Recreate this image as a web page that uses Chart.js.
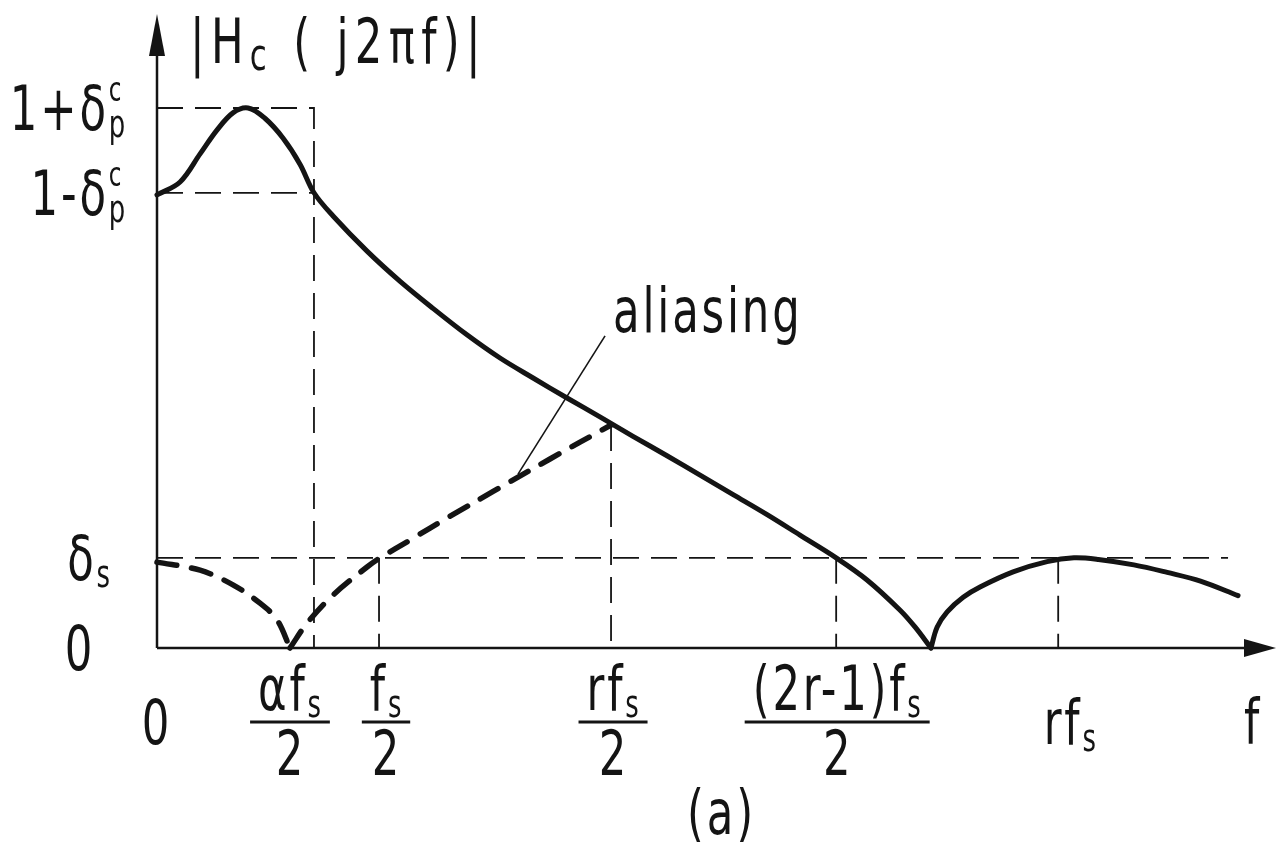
<!DOCTYPE html>
<html>
<head>
<meta charset="utf-8">
<script src="https://cdn.jsdelivr.net/npm/chart.js@4.4.1/dist/chart.umd.min.js"></script>
<style>
  html, body { margin: 0; padding: 0; background: #fff; }
  #wrap { position: relative; width: 1276px; height: 842px; }
</style>
</head>
<body>
<div id="wrap"><canvas id="resp"></canvas></div>
<script>
// frequency in units of fs/2, magnitude in units of 1+δp

// |Hc(j2πf)| main lobe, down to its first zero
const respFreq = [0, 0.104, 0.194, 0.270, 0.342, 0.410, 0.486, 0.568, 0.644, 0.707,
  0.793, 0.946, 1.095, 1.243, 1.396, 1.545, 1.694, 1.847, 1.995, 2.144,
  2.297, 2.446, 2.595, 2.748, 2.896, 3.059, 3.198, 3.347, 3.414, 3.486];
const respMag = [0.839, 0.863, 0.915, 0.959, 0.991, 1.000, 0.981, 0.944, 0.896, 0.843,
  0.800, 0.735, 0.679, 0.629, 0.580, 0.537, 0.500, 0.463, 0.428, 0.392,
  0.356, 0.320, 0.284, 0.247, 0.209, 0.167, 0.126, 0.070, 0.039, 0];

// stopband side lobe
const lobeFreq = [3.486, 3.514, 3.559, 3.631, 3.707, 3.856, 4.009, 4.130, 4.240, 4.400, 4.550, 4.700, 4.869];
const lobeMag = [0, 0.039, 0.067, 0.094, 0.113, 0.141, 0.160, 0.167, 0.164, 0.154, 0.140, 0.124, 0.097];

// aliased image folded back into the band
const foldFreq = [0, 0.194, 0.342, 0.464, 0.541, 0.599];
const foldMag = [0.159, 0.144, 0.117, 0.083, 0.052, 0];
const aliasFreq = [0.599, 0.676, 0.793, 0.946, 1.005, 1.140, 1.320, 1.514, 1.770, 2.045];
const aliasMag = [0, 0.046, 0.098, 0.150, 0.167, 0.200, 0.244, 0.290, 0.350, 0.413];

// tick positions and labels
const xTicks = [0, 0.707, 1.0, 2.045, 3.059, 4.059];
const xTickLabels = ['0', 'αf_{s}/2', 'f_{s}/2', 'rf_{s}/2', '(2r-1)f_{s}/2', 'rf_{s}'];
const yTicks = [1.0, 0.843, 0.167, 0];
const yTickLabels = ['1+δ_{p}^{c}', '1-δ_{p}^{c}', 'δ_{s}', '0'];

const stopbandEnd = 4.824;
const leaderFreq = [2.018, 1.626];
const leaderMag = [0.578, 0.322];

const INK = '#141414';
const FONT = '"DejaVu Sans", sans-serif';
const SX = 0.70; // narrow lettering

const pts = (xs, ys) => xs.map((v, i) => ({ x: v, y: ys[i] }));

function guide(data) {
  return {
    data, showLine: true, pointRadius: 0, borderColor: INK, borderWidth: 1.8,
    borderDash: [26, 12], tension: 0, clip: false
  };
}

const [tPass, tAlpha, tHalf, tRHalf, tImage, tR] = xTicks;
const [yTop, yLow, yStop] = yTicks;

const guides = [
  guide([{ x: 0, y: yTop }, { x: tAlpha, y: yTop }, { x: tAlpha, y: 0 }]),
  guide([{ x: 0, y: yLow }, { x: tAlpha, y: yLow }]),
  guide([{ x: 0, y: yStop }, { x: stopbandEnd, y: yStop }]),
  guide([{ x: tHalf, y: yStop }, { x: tHalf, y: 0 }]),
  guide([{ x: tRHalf, y: aliasMag[aliasMag.length - 1] }, { x: tRHalf, y: 0 }]),
  guide([{ x: tImage, y: yStop }, { x: tImage, y: 0 }]),
  guide([{ x: tR, y: yStop }, { x: tR, y: 0 }])
];

function curve(data, dashed) {
  return {
    data, showLine: true, pointRadius: 0, borderColor: INK,
    borderWidth: dashed ? 5.5 : 5, borderDash: dashed ? [20, 15] : [],
    borderCapStyle: 'round', borderJoinStyle: 'round',
    tension: 0.35, clip: false
  };
}

// split "a_{b}^{c}" into runs of base / subscript / superscript text
function parseRuns(s) {
  const runs = [];
  let buf = '';
  for (let i = 0; i < s.length; i++) {
    const ch = s[i];
    if ((ch === '_' || ch === '^') && s[i + 1] === '{') {
      if (buf) { runs.push({ t: buf, kind: 'base' }); buf = ''; }
      const end = s.indexOf('}', i);
      runs.push({ t: s.slice(i + 2, end), kind: ch === '_' ? 'sub' : 'sup' });
      i = end;
    } else buf += ch;
  }
  if (buf) runs.push({ t: buf, kind: 'base' });
  return runs;
}

function layoutRuns(ctx, runs, o) {
  let x = 0, scriptStart = null;
  const pieces = runs.map((r, k) => {
    const size = r.kind === 'base' ? o.size : (r.kind === 'sub' ? o.sub : o.sup);
    const dy = r.kind === 'base' ? 0 : (r.kind === 'sub' ? o.subDy : o.supDy);
    ctx.font = size + 'px ' + FONT;
    ctx.letterSpacing = o.spacing + 'px';
    const w = ctx.measureText(r.t).width * SX;
    let x0;
    if (r.kind !== 'base' && k > 0 && runs[k - 1].kind !== 'base' && scriptStart !== null) {
      x0 = scriptStart; // stacked sub + sup
      x = Math.max(x, x0 + w);
    } else {
      x0 = x;
      scriptStart = r.kind === 'base' ? null : x0;
      x = x0 + w;
    }
    return { t: r.t, x: x0, dy, size };
  });
  return { pieces, width: x };
}

function drawRich(ctx, s, x, y, align, o) {
  const opts = Object.assign({ size: 62, sub: 37, sup: 33, subDy: 7, supDy: -29, spacing: 4 }, o || {});
  const lay = layoutRuns(ctx, parseRuns(s), opts);
  let x0 = x;
  if (align === 'center') x0 = x - lay.width / 2;
  else if (align === 'right') x0 = x - lay.width;
  ctx.fillStyle = INK;
  ctx.textBaseline = 'alphabetic';
  ctx.textAlign = 'left';
  lay.pieces.forEach(p => {
    ctx.save();
    ctx.font = p.size + 'px ' + FONT;
    ctx.letterSpacing = opts.spacing + 'px';
    ctx.translate(x0 + p.x, y + p.dy);
    ctx.scale(SX, 1);
    ctx.fillText(p.t, 0, 0);
    ctx.restore();
  });
  return lay.width;
}

// label placement tweaks
const xLabelShift = [0, -23, 8, 3, 2, 13];
const yLabelPlace = [
  { align: 'right', x: 128 }, { align: 'right', x: 128 },
  { align: 'center', x: 90 }, { align: 'center', x: 80 }
];

const sketchPlugin = {
  id: 'sketch',
  afterDraw(chart) {
    const { ctx, scales: { x, y }, chartArea } = chart;
    const ox = x.getPixelForValue(0), oy = y.getPixelForValue(0);
    ctx.save();
    ctx.strokeStyle = INK;
    ctx.fillStyle = INK;
    ctx.lineWidth = 2.5;
    ctx.setLineDash([]);

    // axes with arrowheads
    const yTip = chartArea.top + 14, xTip = chartArea.right;
    ctx.beginPath();
    ctx.moveTo(ox, oy); ctx.lineTo(ox, yTip + 30);
    ctx.moveTo(ox, oy); ctx.lineTo(xTip - 28, oy);
    ctx.stroke();
    ctx.beginPath();
    ctx.moveTo(ox, yTip); ctx.lineTo(ox - 8, yTip + 42); ctx.lineTo(ox + 8, yTip + 42); ctx.closePath();
    ctx.fill();
    ctx.beginPath();
    ctx.moveTo(xTip, oy); ctx.lineTo(xTip - 32, oy - 9); ctx.lineTo(xTip - 32, oy + 9); ctx.closePath();
    ctx.fill();

    // axis title
    drawRich(ctx, '|H_{c} ( j2πf)|', ox + 33, chartArea.top + 63, 'left', { spacing: 9, sub: 44 });

    // magnitude ticks
    yTicks.forEach((v, i) => {
      const p = yLabelPlace[i];
      drawRich(ctx, yTickLabels[i], p.x, y.getPixelForValue(v) + 22, p.align);
    });

    // frequency ticks
    xTicks.forEach((v, i) => {
      const cx = x.getPixelForValue(v) + xLabelShift[i];
      const lbl = xTickLabels[i];
      const slash = lbl.lastIndexOf('/');
      if (slash < 0) {
        drawRich(ctx, lbl, cx, oy + 96, 'center');
        return;
      }
      const w = drawRich(ctx, lbl.slice(0, slash), cx, oy + 62, 'center');
      ctx.lineWidth = 3;
      ctx.beginPath();
      ctx.moveTo(cx - w / 2 - 8, oy + 74); ctx.lineTo(cx + w / 2 + 6, oy + 74);
      ctx.stroke();
      drawRich(ctx, lbl.slice(slash + 1), cx, oy + 127, 'center');
    });

    drawRich(ctx, 'f', x.getPixelForValue(4.937), oy + 95, 'center');
    drawRich(ctx, '(a)', (chartArea.left + chartArea.right) / 2 + 5, oy + 186, 'center');

    // leader label
    drawRich(ctx, 'aliasing', x.getPixelForValue(leaderFreq[0]) + 8, y.getPixelForValue(leaderMag[0]) - 4, 'left');
    ctx.restore();
  }
};

new Chart(document.getElementById('resp'), {
  type: 'scatter',
  data: {
    datasets: [
      curve(pts(respFreq, respMag), false),
      curve(pts(lobeFreq, lobeMag), false),
      curve(pts(foldFreq, foldMag), true),
      curve(pts(aliasFreq, aliasMag), true),
      {
        data: pts(leaderFreq, leaderMag), showLine: true, pointRadius: 0,
        borderColor: INK, borderWidth: 1.6, tension: 0, clip: false
      },
      ...guides
    ]
  },
  options: {
    responsive: true,
    maintainAspectRatio: false,
    animation: false,
    devicePixelRatio: 1,
    layout: { padding: { left: 157, right: 0, top: 0, bottom: 194 } },
    plugins: { legend: { display: false }, tooltip: { enabled: false } },
    scales: {
      x: { type: 'linear', min: 0, max: 5.04, display: false },
      y: { type: 'linear', min: 0, max: 1.2, display: false }
    }
  },
  plugins: [sketchPlugin]
});
</script>
</body>
</html>
